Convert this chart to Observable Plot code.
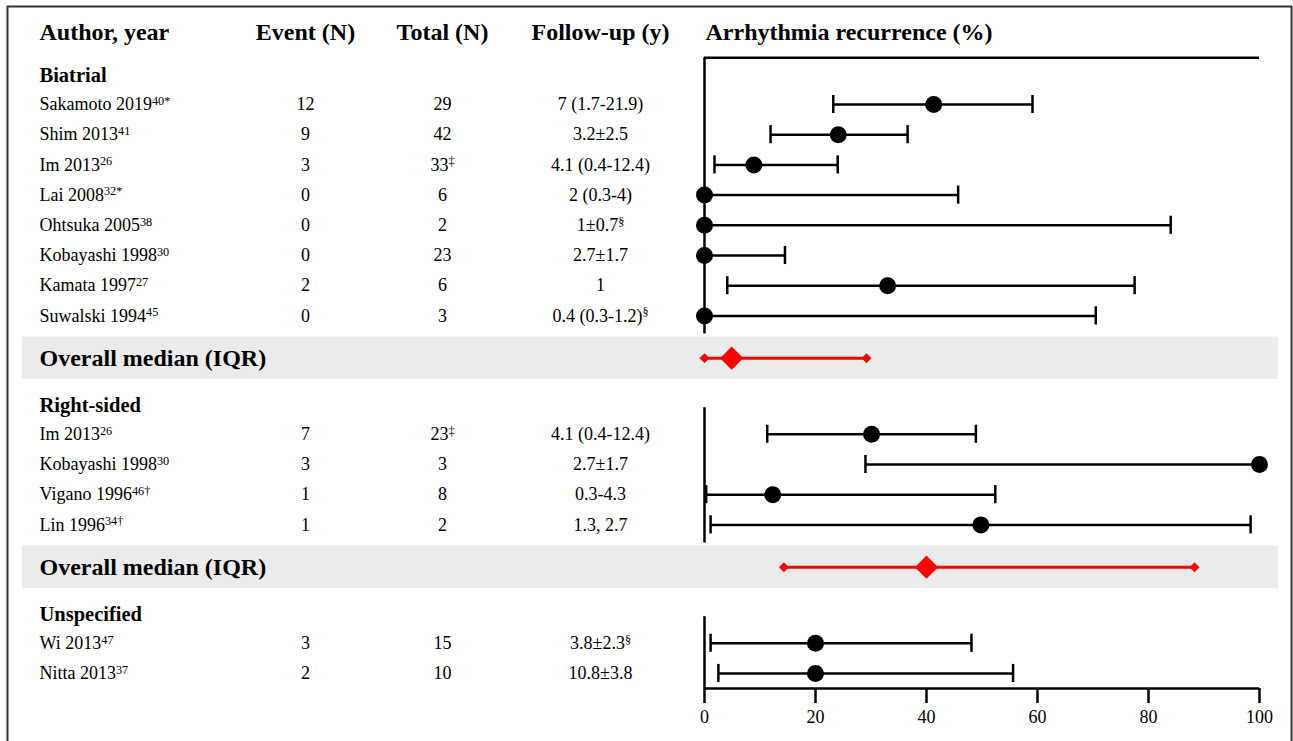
<!DOCTYPE html>
<html><head><meta charset="utf-8">
<script src="https://cdn.jsdelivr.net/npm/d3@7"></script>
<script src="https://cdn.jsdelivr.net/npm/@observablehq/plot@0.6"></script>
<style>
body{margin:0;background:#fff;}
</style></head><body><div id="chart"></div>
<script>
// ---- data ----
const groups = ["Biatrial", "Right-sided", "Unspecified"];
const headers = ["Author, year", "Event (N)", "Total (N)", "Follow-up (y)", "Arrhythmia recurrence (%)"];
const medianLabel = "Overall median (IQR)";
const studyGroup = ["Biatrial","Biatrial","Biatrial","Biatrial","Biatrial","Biatrial","Biatrial","Biatrial",
  "Right-sided","Right-sided","Right-sided","Right-sided","Unspecified","Unspecified"];
const authors = ["Sakamoto 2019","Shim 2013","Im 2013","Lai 2008","Ohtsuka 2005","Kobayashi 1998","Kamata 1997","Suwalski 1994",
  "Im 2013","Kobayashi 1998","Vigano 1996","Lin 1996","Wi 2013","Nitta 2013"];
const refs = ["40*","41","26","32*","38","30","27","45","26","30","46†","34†","47","37"];
const events = [12, 9, 3, 0, 0, 0, 2, 0, 7, 3, 1, 1, 3, 2];
const totals = [29, 42, 33, 6, 2, 23, 6, 3, 23, 3, 8, 2, 15, 10];
const totalNotes = ["","","‡","","","","","","‡","","","","",""];
const followUp = ["7 (1.7-21.9)","3.2±2.5","4.1 (0.4-12.4)","2 (0.3-4)","1±0.7","2.7±1.7","1","0.4 (0.3-1.2)",
  "4.1 (0.4-12.4)","2.7±1.7","0.3-4.3","1.3, 2.7","3.8±2.3","10.8±3.8"];
const followNotes = ["","","","","§","","","§","","","","","§",""];
const recurrence = [41.3, 24.1, 8.9, 0, 0, 0, 33.0, 0, 30.1, 100, 12.3, 49.8, 20, 20];
const lower = [23.2, 11.9, 1.8, 0, 0, 0, 4.1, 0, 11.3, 29.0, 0.3, 1.1, 1.1, 2.5];
const upper = [59.1, 36.6, 24.0, 45.7, 84.0, 14.5, 77.5, 70.5, 48.9, 100, 52.4, 98.4, 48.1, 55.6];
const medianGroups = ["Biatrial", "Right-sided"];
const medianQ1 = [0, 14.3];
const medianValues = [4.9, 40.0];
const medianQ3 = [29.2, 88.3];
const xTicks = [0, 20, 40, 60, 80, 100];

// ---- layout (row units) ----
const ROW = 30.2, Y0 = 104;
const yOf = r => Y0 + (r - 1) * ROW;
const headerRow = -1.38, topRow = -0.55;
const studies = [], sections = [], medians = [], spines = [];
let r = 0.03, axisRow = 0;
groups.forEach((g, gi) => {
  sections.push({label: g, row: r});
  const idx = authors.map((_, i) => i).filter(i => studyGroup[i] === g);
  const first = r + 0.97;
  idx.forEach((i, k) => studies.push({
    author: authors[i] + "^" + refs[i], event: String(events[i]),
    total: totals[i] + (totalNotes[i] ? "^" + totalNotes[i] : ""),
    follow: followUp[i] + (followNotes[i] ? "^" + followNotes[i] : ""),
    est: recurrence[i], lo: lower[i], hi: upper[i], row: first + k
  }));
  const last = first + idx.length - 1;
  const m = medianGroups.indexOf(g);
  if (m >= 0) {
    const mr = last + 1.4;
    medians.push({row: mr, q1: medianQ1[m], median: medianValues[m], q3: medianQ3[m]});
    spines.push({y1: gi === 0 ? topRow : first - 0.88, y2: last + 0.6});
    r = mr + 1.55;
  } else {
    axisRow = last + 0.5;
    spines.push({y1: gi === 0 ? topRow : first - 0.88, y2: axisRow});
  }
});
const caps = [];
studies.forEach(d => {
  if (d.lo !== d.est) caps.push({x: d.lo, row: d.row});
  if (d.hi !== d.est) caps.push({x: d.hi, row: d.row});
});
const medianEnds = medians.flatMap(d => [{x: d.q1, row: d.row}, {x: d.q3, row: d.row}]);

const width = 1293, height = 741;
const marginLeft = 39;
const marginBottom = height - yOf(axisRow);
const RED = "#ff0000";
const serif = "Liberation Serif, Times New Roman, serif";

const col = (data, text, cx, anchor, opts = {}) =>
  Plot.text(data, {y: "row", text, frameAnchor: "left", dx: cx - marginLeft, textAnchor: anchor, fontSize: 18, fill: "black", ...opts});

const chart = Plot.plot({
  width, height,
  marginTop: 0, marginLeft, marginRight: 0, marginBottom,
  x: {domain: [0, 100], range: [704, 1259]},
  y: {domain: [1, 20], range: [yOf(1), yOf(20)], axis: null},
  style: {fontFamily: serif, color: "black", background: "white"},
  marks: [
    Plot.frame({stroke: "#333", strokeWidth: 2, insetLeft: 7 - marginLeft, insetTop: 6, insetRight: 2, insetBottom: -(marginBottom + 10)}),
    Plot.rect(medians, {y1: d => d.row - 0.7, y2: d => d.row + 0.7, fill: "#ebebeb", insetLeft: 22 - marginLeft, insetRight: 15}),
    Plot.ruleY([topRow], {y: d => d, x1: 0, x2: 100, stroke: "black", strokeWidth: 2.5}),
    Plot.ruleY([axisRow], {y: d => d, x1: 0, x2: 100, stroke: "black", strokeWidth: 2.5}),
    Plot.axisX({ticks: xTicks, tickSize: 15, tickPadding: 7, fontSize: 18, strokeWidth: 2.5, stroke: "black", fill: "black", label: null}),
    Plot.ruleX(spines, {x: 0, y1: "y1", y2: "y2", stroke: "black", strokeWidth: 2.5}),
    Plot.ruleY(studies, {y: "row", x1: "lo", x2: "hi", stroke: "black", strokeWidth: 2.5}),
    Plot.ruleX(caps, {x: "x", y1: d => d.row - 0.3, y2: d => d.row + 0.3, stroke: "black", strokeWidth: 2.5}),
    Plot.dot(studies, {x: "est", y: "row", r: 8.5, fill: "black"}),
    Plot.ruleY(medians, {y: "row", x1: "q1", x2: "q3", stroke: RED, strokeWidth: 3}),
    Plot.dot(medianEnds, {x: "x", y: "row", symbol: "diamond2", r: 4.5, fill: RED}),
    Plot.dot(medians, {x: "median", y: "row", symbol: "diamond2", r: 10.5, fill: RED}),
    // header
    col([{row: headerRow}], () => headers[0], 39, "start", {fontSize: 24, fontWeight: "bold"}),
    col([{row: headerRow}], () => headers[1], 305, "middle", {fontSize: 24, fontWeight: "bold"}),
    col([{row: headerRow}], () => headers[2], 442, "middle", {fontSize: 24, fontWeight: "bold"}),
    col([{row: headerRow}], () => headers[3], 600, "middle", {fontSize: 24, fontWeight: "bold"}),
    col([{row: headerRow}], () => headers[4], 705, "start", {fontSize: 24, fontWeight: "bold"}),
    // sections
    col(sections, "label", 39, "start", {fontSize: 20.5, fontWeight: "bold"}),
    col(medians, () => medianLabel, 39, "start", {fontSize: 24, fontWeight: "bold"}),
    // studies
    col(studies, "author", 39, "start"),
    col(studies, "event", 305, "middle"),
    col(studies, "total", 442, "middle"),
    col(studies, "follow", 600, "middle")
  ]
});

// superscripts
d3.select(chart).selectAll("text").each(function() {
  const t = this.textContent;
  const k = t.indexOf("^");
  if (k < 0) return;
  const el = d3.select(this);
  el.text(null);
  el.append("tspan").text(t.slice(0, k));
  el.append("tspan").attr("dy", "-0.45em").attr("font-size", "0.68em").text(t.slice(k + 1));
});

document.getElementById("chart").append(chart);
</script>
</body></html>
